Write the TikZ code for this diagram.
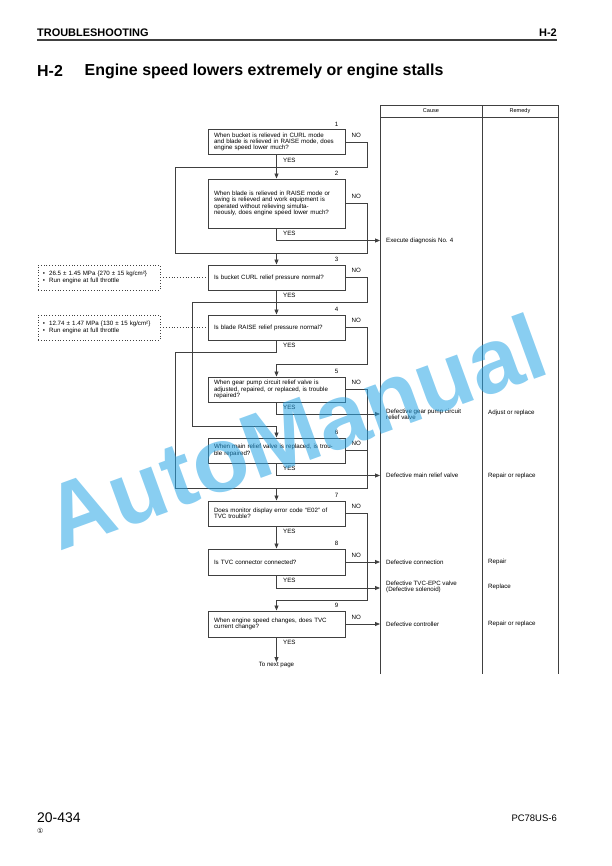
\documentclass[tikz,border=0pt]{standalone}
\usepackage{fontspec}
\setmainfont{Liberation Sans}
\newfontfamily\circfont{DejaVu Sans}
\usetikzlibrary{arrows.meta, positioning, calc}
\definecolor{linegray}{gray}{0.25}
\definecolor{markblue}{RGB}{40,165,230}

\begin{document}
\begin{tikzpicture}[x=1bp, y=-1bp,
    every node/.style={font=\fontsize{6.2}{6.4}\selectfont, inner sep=0pt},
    qbox/.style={draw=linegray, line width=1bp, minimum width=137bp, minimum height=25bp,
        text width=125bp, align=left},
    notebox/.style={draw=linegray, dotted, line width=0.8bp, minimum width=122bp,
        minimum height=25bp, text width=112bp, align=left},
    num/.style={anchor=south},
    nolbl/.style={anchor=south west},
    yeslbl/.style={anchor=north west},
    cause/.style={anchor=west, inner xsep=6bp, align=left},
    remedy/.style={anchor=west},
    flow/.style={draw=linegray, line width=0.8bp},
    arr/.style={flow, -{Triangle[length=5bp, width=4bp]}},
    tab/.style={draw=linegray, line width=1bp},
    wmark/.style={anchor=base, rotate=20, opacity=0.55, text=markblue,
        font=\fontsize{92}{92}\selectfont\bfseries}]
    \useasboundingbox (0,0) rectangle (612,866);

    % page head
    \node[anchor=west, font=\fontsize{11}{12}\selectfont\bfseries] (sect) at (37,33) {TROUBLESHOOTING};
    \node[anchor=east, font=\fontsize{11}{12}\selectfont\bfseries] (secid) at (557,33) {H-2};
    \draw[draw=linegray, line width=1.2bp] (37,40) -- (557,40);
    \node[anchor=west, font=\fontsize{16}{17}\selectfont\bfseries] (hid) at (37,71) {H-2};
    \node[anchor=west, font=\fontsize{16}{17}\selectfont\bfseries] (title) at (84.5,71)
        {Engine speed lowers extremely or engine stalls};

    % table
    \draw[tab] (380,674) |- (558,105) -- (558,674);
    \draw[tab] (380,117) -- (558,117);
    \draw[tab] (482,105) -- (482,674);
    \node[font=\fontsize{5.6}{6}\selectfont] (cause) at (431,111) {Cause};
    \node[font=\fontsize{5.6}{6}\selectfont] (remedy) at (520,111) {Remedy};

    % questions
    \node[qbox] (q1) at (276.5,142) {When bucket is relieved in CURL mode\\and blade is relieved in RAISE mode, does\\engine speed lower much?};
    \node[qbox, minimum height=49bp] (q2) at (276.5,203.5) {When blade is relieved in RAISE mode or\\swing is relieved and work equipment is\\operated without relieving simulta-\\neously, does engine speed lower much?};
    \node[qbox] (q3) at (276.5,277.5) {Is bucket CURL relief pressure normal?};
    \node[qbox] (q4) at (276.5,327.5) {Is blade RAISE relief pressure normal?};
    \node[qbox] (q5) at (276.5,389.5) {When gear pump circuit relief valve is\\adjusted, repaired, or replaced, is trouble\\repaired?};
    \node[qbox] (q6) at (276.5,450.5) {When main relief valve is replaced, is trou-\\ble repaired?};
    \node[qbox] (q7) at (276.5,513.5) {Does monitor display error code \textquotedblleft E02\textquotedblright\ of\\TVC trouble?};
    \node[qbox, minimum height=26bp] (q8) at (276.5,562) {Is TVC connector connected?};
    \node[qbox, minimum height=26bp] (q9) at (276.5,624) {When engine speed changes, does TVC\\current change?};

    \foreach \i in {1,...,9} {
        \node[num] (n\i) at ([xshift=-9bp, yshift=2.5bp]q\i.north east) {\i};
        \node[nolbl] (no\i) at ([xshift=6bp, yshift=4.5bp]q\i.east) {NO};
        \node[yeslbl] (yes\i) at ([xshift=6.5bp, yshift=-2.5bp]q\i.south) {YES};
    }

    % conditions
    \node[notebox] (m3) at (99,277.5) {•\hspace{4bp}26.5 ± 1.45 MPa \{270 ± 15 kg/cm²\}\\[1bp]•\hspace{4bp}Run engine at full throttle};
    \node[notebox] (m4) at (99,327.5) {•\hspace{4bp}12.74 ± 1.47 MPa \{130 ± 15 kg/cm²\}\\[1bp]•\hspace{4bp}Run engine at full throttle};
    \draw[draw=linegray, dotted, line width=0.8bp] (m3.east) -- (q3.west);
    \draw[draw=linegray, dotted, line width=0.8bp] (m4.east) -- (q4.west);

    % causes and remedies
    \node[cause] (c2) at (380,240.5) {Execute diagnosis No. 4};
    \node[cause] (c5) at (380,414) {Defective gear pump circuit\\relief valve};
    \node[cause] (c6) at (380,475.5) {Defective main relief valve};
    \node[cause] (c8) at (380,562) {Defective connection};
    \node[cause] (c8y) at (380,587) {Defective TVC-EPC valve\\(Defective solenoid)};
    \node[cause] (c9) at (380,624) {Defective controller};
    \node[remedy] (r5) at (488,413) {Adjust or replace};
    \node[remedy] (r6) at (488,475.5) {Repair or replace};
    \node[remedy] (r8) at (488,562) {Repair};
    \node[remedy] (r8y) at (488,587) {Replace};
    \node[remedy] (r9) at (488,624) {Repair or replace};
    \node[anchor=north] (next) at (276.5,662) {To next page};

    \coordinate (j1) at (276.5,253);
    \coordinate (j2) at (276.5,488);

    % connectors
    \draw[arr] (q1.south) -- (q2.north);
    \draw[flow] (q1.east) -| (367.5,167) -- (175.5,167) |- (367.5,253);
    \draw[flow] (q2.east) -| (367.5,253);
    \draw[arr] (q2.south) |- (c2.west);
    \draw[arr] (j1) -- (q3.north);
    \draw[arr] (q3.south) -- (q4.north);
    \draw[arr] (q3.east) -| (367.5,302) -| (192,426.5) -| (q6.north);
    \draw[arr] (q4.east) -| (367.5,364.5) -| (q5.north);
    \draw[flow] (q4.south) |- (175.5,352) |- (367.5,488);
    \draw[flow] (q5.east) -| (367.5,488);
    \draw[flow] (q6.east) -- (367.5,450.5);
    \draw[arr] (q5.south) |- (c5.west);
    \draw[arr] (q6.south) |- (c6.west);
    \draw[arr] (j2) -- (q7.north);
    \draw[arr] (q7.south) -- (q8.north);
    \draw[arr] (q7.east) -| (367.5,600.5) -| (q9.north);
    \draw[arr] (q8.east) -- (c8.west);
    \draw[arr] (q8.south) |- ([yshift=-1bp]c8y.west);
    \draw[arr] (q9.east) -- (c9.west);
    \draw[arr] (q9.south) -- (next.north);

    % page foot
    \node[anchor=west, font=\fontsize{14}{15}\selectfont] (pg) at (37,818) {20-434};
    \node[anchor=west, font=\circfont\fontsize{7}{8}\selectfont] (rev) at (37,831) {①};
    \node[anchor=east, font=\fontsize{9.5}{10}\selectfont] (model) at (557,818) {PC78US-6};

    \node[wmark] (wm) at (306,462) {AutoManual};
\end{tikzpicture}
\end{document}
